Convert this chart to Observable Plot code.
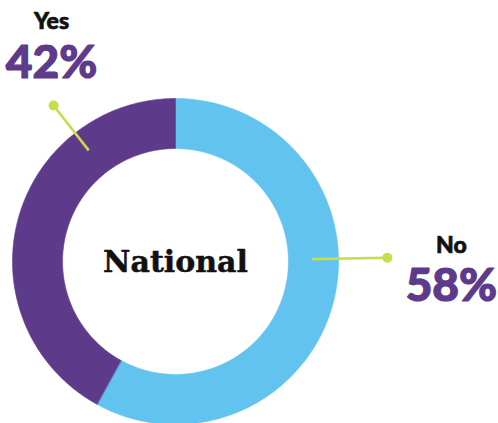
<!DOCTYPE html>
<html>
<head>
<meta charset="utf-8">
<script src="https://cdn.jsdelivr.net/npm/d3@7"></script>
<script src="https://cdn.jsdelivr.net/npm/@observablehq/plot@0.6"></script>
<style>
  html, body { margin: 0; padding: 0; background: #fff; }
  #chart svg { display: block; }
</style>
</head>
<body>
<div id="chart"></div>
<script>
// ---- data ----
const categories = ["No", "Yes"];          // drawn clockwise from 12 o'clock
const values = [58, 42];
const colors = ["#62c3ee", "#5e3a8a"];
const centerLabel = "National";
// leader-line annotation angles (degrees clockwise from 12 o'clock)
const leaderAngles = [89, 322];

// ---- geometry (unit-radius donut in data space) ----
const W = 498, H = 423;
const R = 163;            // outer radius, px
const cx = 175, cy = 261; // centre, px
const inner = 0.693;
const total = d3.sum(values);

const slices = [];
let acc = 0;
categories.forEach((c, i) => {
  const a0 = acc / total * 2 * Math.PI;
  acc += values[i];
  const a1 = acc / total * 2 * Math.PI;
  const n = 120;
  for (let k = 0; k <= n; k++) {
    const a = a0 + (a1 - a0) * k / n;
    slices.push({cat: c, x: Math.sin(a), y: Math.cos(a)});
  }
  for (let k = n; k >= 0; k--) {
    const a = a0 + (a1 - a0) * k / n;
    slices.push({cat: c, x: inner * Math.sin(a), y: inner * Math.cos(a)});
  }
});

const leaders = categories.map((c, i) => {
  const a = leaderAngles[i] * Math.PI / 180;
  const r0 = i === 0 ? 0.84 : 0.865;
  const r1 = i === 0 ? 1.30 : 1.215;
  return {
    cat: c, value: values[i], pct: values[i] + "%",
    x1: r0 * Math.sin(a), y1: r0 * Math.cos(a),
    x2: r1 * Math.sin(a), y2: r1 * Math.cos(a)
  };
});

// label offsets from the leader dot (px)
const labelDx = [64, -2];
const nameDy = [-12, -84];
const pctDy = [28, -42];

const labelMarks = leaders.flatMap((d, i) => [
  Plot.text([d], {x: "x2", y: "y2", text: "cat", dx: labelDx[i], dy: nameDy[i],
    fontFamily: "Lato", fontWeight: 900, fontSize: 23, fill: "#111", stroke: "#111", strokeWidth: 0.7, lineAnchor: "middle"}),
  Plot.text([d], {x: "x2", y: "y2", text: "pct", dx: labelDx[i], dy: pctDy[i],
    fontFamily: "Lato", fontWeight: 900, fontSize: 46, fill: "#5e3a8a", stroke: "#5e3a8a", strokeWidth: 1.2, lineAnchor: "middle"})
]);

const chart = Plot.plot({
  width: W, height: H,
  margin: 0,
  x: {domain: [-cx / R, (W - cx) / R], axis: null},
  y: {domain: [-(H - cy) / R, cy / R], axis: null},
  color: {domain: categories, range: colors},
  marks: [
    Plot.line(slices, {x: "x", y: "y", z: "cat", fill: "cat", stroke: "cat", strokeWidth: 0.6, curve: "linear-closed"}),
    Plot.link(leaders, {x1: "x1", y1: "y1", x2: "x2", y2: "y2", stroke: "#c9dc4b", strokeWidth: 2.6}),
    Plot.dot(leaders, {x: "x2", y: "y2", r: 5, fill: "#c9dc4b", stroke: null}),
    Plot.text([centerLabel], {x: () => 0, y: () => 0, text: d => d, fontFamily: "DejaVu Serif", fontWeight: "bold", fontSize: 30, fill: "#111", stroke: "#111", strokeWidth: 0.5, lineAnchor: "middle", dy: 1}),
    ...labelMarks
  ]
});
document.getElementById("chart").appendChild(chart);
</script>
</body>
</html>
